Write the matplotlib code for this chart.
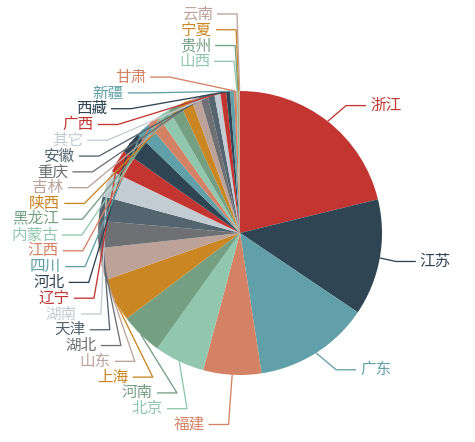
import math
import matplotlib
matplotlib.use("Agg")
import matplotlib.pyplot as plt

plt.rcParams['font.family'] = ['Noto Sans CJK SC', 'DejaVu Sans']

# ---- data ----
names = ['浙江', '江苏', '广东', '福建', '北京', '河南', '上海', '山东', '湖北', '天津',
         '湖南', '辽宁', '河北', '四川', '江西', '内蒙古', '黑龙江', '陕西', '吉林', '重庆',
         '安徽', '其它', '广西', '西藏', '新疆', '甘肃', '山西', '贵州', '宁夏', '云南']
values = [763, 477, 473, 238, 206, 173, 178, 131, 111, 101,
          107, 94, 89, 58, 51, 51, 51, 49, 36, 31,
          28, 25, 24, 16, 16, 10, 4, 4, 3, 3]
palette = ['#c23531', '#2f4554', '#61a0a8', '#d48265', '#91c7ae', '#749f83',
           '#ca8622', '#bda29a', '#6e7074', '#546570', '#c4ccd3']

# ---- layout (pixels, screen coords with y downward) ----
W, H = 475, 442
CX, CY = 240.0, 233.0
R = 142.0
LEN1, LEN2 = 20.0, 20.0
TEXT_GAP = 6.5
LINE_GAP = 3.9
LABEL_H = 15.79
Y_BOTTOM = 424.5
FONT_PX = 15.6

colors = [palette[i % len(palette)] for i in range(len(values))]

fig = plt.figure(figsize=(W / 100, H / 100), dpi=100)
ax = fig.add_axes([0, 0, 1, 1])
ax.pie(values, colors=colors, startangle=90, counterclock=False,
       radius=R, center=(CX, H - CY),
       wedgeprops=dict(linewidth=0, antialiased=True))
ax.set_xlim(0, W)
ax.set_ylim(0, H)
ax.set_aspect('equal')
ax.axis('off')

total = float(sum(values))
items = []
acc = 0.0
for i, (n, v) in enumerate(zip(names, values)):
    a0 = 90 - 360 * acc / total
    acc += v
    a1 = 90 - 360 * acc / total
    mid = math.radians((a0 + a1) / 2)
    dx, dy = math.cos(mid), -math.sin(mid)
    x1, y1 = CX + R * dx, CY + R * dy
    x2, y2 = CX + (R + LEN1) * dx, CY + (R + LEN1) * dy
    sgn = -1 if dx < 0 else 1
    x3 = x2 + sgn * LEN2
    items.append(dict(name=n, color=colors[i], x=x3 + sgn * TEXT_GAP, y=y2,
                      h=LABEL_H, dir=sgn, p0=(x1, y1)))


def change_x(sub, is_down, d):
    last = float('inf') if is_down else 0.0
    for a in sub:
        ddy = abs(a['y'] - CY)
        if ddy < R + LEN1:
            ddx = math.sqrt((R + LEN1 + LEN2) ** 2 - ddy ** 2)
        else:
            ddx = abs(a['x'] - CX)
        if is_down and ddx >= last:
            ddx = last - 10
        if (not is_down) and ddx <= last:
            ddx = last + 10
        a['x'] = CX + ddx * d
        last = ddx


def layout_side(lst, d, packed):
    lst.sort(key=lambda a: a['y'])
    n = len(lst)
    if packed:
        for k, a in enumerate(lst):
            a['y'] = Y_BOTTOM - (n - 1 - k) * LABEL_H
    change_x([a for a in lst if a['y'] < CY], False, d)
    change_x([a for a in lst if a['y'] >= CY], True, d)


left = [a for a in items if a['dir'] < 0]
right = [a for a in items if a['dir'] > 0]
layout_side(left, -1, True)
layout_side(right, 1, False)

for a in items:
    d = a['dir']
    end_x = a['x'] - d * LINE_GAP
    elbow_x = end_x - d * LEN2
    xs = [a['p0'][0], elbow_x, end_x]
    ys = [H - a['p0'][1], H - a['y'], H - a['y']]
    ax.plot(xs, ys, color=a['color'], lw=0.95, solid_capstyle='butt')
    ax.text(a['x'], H - a['y'], a['name'], color=a['color'],
            fontsize=FONT_PX * 0.72, ha='left' if d > 0 else 'right', va='center')

fig.savefig('out.png', dpi=100)
